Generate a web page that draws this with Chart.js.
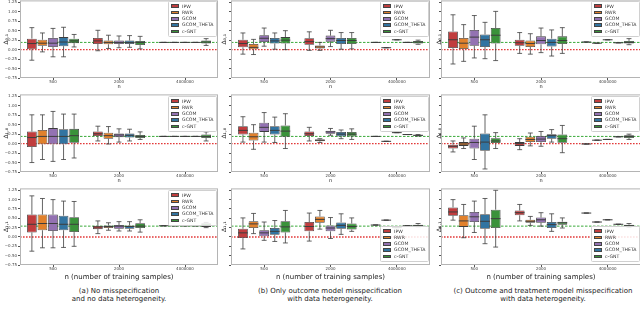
<!DOCTYPE html>
<html><head><meta charset="utf-8">
<script src="https://cdn.jsdelivr.net/npm/chart.js@4.4.1/dist/chart.umd.min.js"></script>
<style>
html,body{margin:0;padding:0;background:#fff;width:640px;height:318px;overflow:hidden;font-family:'DejaVu Sans',sans-serif;}
#root{position:relative;width:640px;height:318px;overflow:hidden;}
canvas{position:absolute;}
.leg{position:absolute;background:rgba(255,255,255,0.85);border:0.6px solid #d0d0d0;border-radius:1.5px;padding:1.5px 2.5px 1px 2.5px;font-size:4.6px;line-height:6.3px;color:#333;white-space:nowrap;}
.leg .sw{display:inline-block;width:8px;height:3.6px;border:0.5px solid #444;margin-right:3px;vertical-align:middle;box-sizing:border-box;}
.cap{position:absolute;width:260px;text-align:center;font-size:7px;line-height:8px;color:#222;}
</style></head><body>
<div id="root"></div>
<script>
// ---------- data ----------
const categories = ['500', '2000', '4000000'];
const seriesNames = ['IPW', 'RWR', 'GCOM', 'GCOM_THETA', 'c-GNT'];
const yTickValues = [-0.75, -0.5, -0.25, 0, 0.25, 0.5, 0.75, 1.0, 1.25];
const yAxisLabels = ['Δ₀,₁', 'Δ₁,₀', 'Δ₁,₁'];
const truthValues = [0.19, 0.19, 0.29];   // green dashed reference per row
const baselineValue = 0;                  // red dotted reference
const captionLines = [
  ['(a) No misspecification', 'and no data heterogeneity.'],
  ['(b) Only outcome model misspecification', 'with data heterogeneity.'],
  ['(c) Outcome and treatment model misspecification', 'with data heterogeneity.']
];

// box stats per n: [min, q1, median, q3, max]
// row 1
const r1a_IPW  = [[-0.28,0.01,0.16,0.29,0.58], [-0.03,0.15,0.23,0.31,0.51], [0.19,0.19,0.19,0.19,0.19]];
const r1a_RWR  = [[-0.06,0.10,0.17,0.26,0.44], [0.03,0.14,0.19,0.24,0.38], [0.19,0.19,0.19,0.19,0.19]];
const r1a_GCOM = [[-0.19,0.07,0.17,0.31,0.56], [0.05,0.15,0.19,0.24,0.36], [0.19,0.19,0.19,0.19,0.19]];
const r1a_GT   = [[-0.19,0.09,0.20,0.33,0.59], [0.06,0.15,0.19,0.24,0.37], [0.19,0.19,0.19,0.19,0.19]];
const r1a_CGNT = [[0.07,0.17,0.23,0.29,0.40], [0.02,0.12,0.19,0.23,0.35], [0.11,0.16,0.20,0.24,0.29]];

const r1b_IPW  = [[-0.12,0.06,0.16,0.26,0.44], [-0.02,0.13,0.21,0.30,0.47], [0.19,0.19,0.19,0.19,0.19]];
const r1b_RWR  = [[-0.13,0.01,0.06,0.15,0.27], [-0.02,0.03,0.07,0.11,0.19], [0.05,0.05,0.05,0.05,0.05]];
const r1b_GCOM = [[0.09,0.20,0.30,0.38,0.57], [0.08,0.21,0.29,0.37,0.51], [0.26,0.26,0.26,0.26,0.26]];
const r1b_GT   = [[0.01,0.16,0.23,0.31,0.44], [0.01,0.15,0.24,0.31,0.45], [0.19,0.19,0.19,0.19,0.19]];
const r1b_CGNT = [[0.00,0.16,0.25,0.33,0.50], [0.02,0.15,0.24,0.31,0.45], [0.14,0.16,0.20,0.23,0.25]];

const r1c_IPW  = [[-0.38,0.04,0.26,0.48,0.92], [-0.10,0.10,0.18,0.26,0.45], [0.20,0.20,0.20,0.20,0.20]];
const r1c_RWR  = [[-0.31,0.00,0.17,0.31,0.66], [-0.12,0.07,0.16,0.24,0.42], [0.17,0.17,0.17,0.17,0.17]];
const r1c_GCOM = [[-0.22,0.10,0.33,0.52,0.90], [-0.08,0.14,0.24,0.35,0.57], [0.26,0.26,0.26,0.26,0.26]];
const r1c_GT   = [[-0.24,0.07,0.26,0.40,0.72], [-0.17,0.08,0.19,0.29,0.52], [0.18,0.18,0.18,0.18,0.18]];
const r1c_CGNT = [[-0.29,0.16,0.38,0.57,1.01], [-0.10,0.15,0.24,0.35,0.58], [0.13,0.16,0.19,0.23,0.29]];
// row 2
const r2a_IPW  = [[-0.50,-0.09,0.16,0.32,0.76], [0.07,0.20,0.26,0.32,0.46], [0.19,0.19,0.19,0.19,0.19]];
const r2a_RWR  = [[-0.42,-0.02,0.19,0.36,0.76], [-0.01,0.13,0.21,0.29,0.45], [0.19,0.19,0.19,0.19,0.19]];
const r2a_GCOM = [[-0.47,-0.02,0.19,0.41,0.85], [0.04,0.17,0.23,0.27,0.39], [0.19,0.19,0.19,0.19,0.19]];
const r2a_GT   = [[-0.42,-0.02,0.19,0.38,0.78], [0.07,0.16,0.22,0.27,0.38], [0.19,0.19,0.19,0.19,0.19]];
const r2a_CGNT = [[-0.38,0.02,0.21,0.39,0.78], [0.11,0.15,0.19,0.23,0.31], [0.07,0.15,0.19,0.24,0.31]];

const r2b_IPW  = [[0.04,0.24,0.35,0.46,0.71], [0.07,0.20,0.26,0.32,0.43], [0.19,0.19,0.19,0.19,0.19]];
const r2b_RWR  = [[-0.15,0.08,0.18,0.29,0.50], [0.03,0.06,0.09,0.11,0.13], [0.06,0.06,0.06,0.06,0.06]];
const r2b_GCOM = [[0.04,0.31,0.43,0.55,0.82], [0.22,0.26,0.31,0.34,0.40], [0.29,0.29,0.29,0.29,0.29]];
const r2b_GT   = [[0.03,0.24,0.35,0.46,0.70], [0.13,0.19,0.25,0.31,0.36], [0.24,0.24,0.24,0.24,0.24]];
const r2b_CGNT = [[-0.13,0.18,0.33,0.48,0.79], [0.11,0.19,0.25,0.31,0.39], [0.20,0.21,0.22,0.23,0.24]];

const r2c_IPW  = [[-0.22,-0.13,-0.07,-0.03,0.07], [-0.16,-0.06,0.00,0.04,0.13], [-0.01,-0.01,-0.01,-0.01,-0.01]];
const r2c_RWR  = [[-0.13,-0.06,-0.01,0.04,0.15], [-0.06,0.04,0.11,0.18,0.28], [0.09,0.09,0.09,0.09,0.09]];
const r2c_GCOM = [[-0.42,-0.13,0.03,0.13,0.46], [-0.07,0.04,0.12,0.20,0.32], [0.11,0.11,0.11,0.11,0.11]];
const r2c_GT   = [[-0.67,-0.19,0.04,0.27,0.76], [0.04,0.13,0.21,0.25,0.37], [0.18,0.18,0.18,0.18,0.18]];
const r2c_CGNT = [[-0.13,0.00,0.07,0.14,0.29], [-0.24,0.02,0.13,0.24,0.48], [0.11,0.15,0.19,0.22,0.25]];
// row 3
const r3a_IPW  = [[-0.38,0.12,0.34,0.60,1.10], [0.09,0.21,0.27,0.30,0.43], [0.30,0.30,0.30,0.30,0.30]];
const r3a_RWR  = [[-0.29,0.18,0.36,0.60,1.03], [0.18,0.24,0.28,0.31,0.38], [0.30,0.30,0.30,0.30,0.30]];
const r3a_GCOM = [[-0.29,0.16,0.36,0.60,1.00], [0.16,0.22,0.29,0.32,0.41], [0.30,0.30,0.30,0.30,0.30]];
const r3a_GT   = [[-0.28,0.18,0.34,0.57,0.96], [0.16,0.22,0.28,0.31,0.41], [0.30,0.30,0.30,0.30,0.30]];
const r3a_CGNT = [[-0.25,0.13,0.34,0.53,0.95], [0.13,0.24,0.29,0.37,0.46], [0.25,0.27,0.31,0.37,0.39]];

const r3b_IPW  = [[-0.32,-0.03,0.11,0.22,0.51], [-0.11,0.15,0.28,0.40,0.64], [0.32,0.32,0.32,0.32,0.32]];
const r3b_RWR  = [[0.09,0.24,0.35,0.42,0.63], [0.21,0.38,0.47,0.55,0.71], [0.45,0.45,0.45,0.45,0.45]];
const r3b_GCOM = [[-0.09,0.02,0.11,0.18,0.40], [-0.04,0.15,0.24,0.31,0.52], [0.25,0.25,0.25,0.25,0.25]];
const r3b_GT   = [[-0.12,0.06,0.15,0.24,0.44], [0.07,0.22,0.31,0.39,0.62], [0.30,0.30,0.30,0.30,0.30]];
const r3b_CGNT = [[-0.16,0.12,0.27,0.42,0.71], [0.15,0.20,0.28,0.36,0.51], [0.27,0.28,0.30,0.33,0.36]];

const r3c_IPW  = [[0.45,0.57,0.67,0.79,1.00], [0.43,0.58,0.65,0.71,0.87], [0.64,0.64,0.64,0.64,0.64]];
const r3c_RWR  = [[-0.02,0.27,0.43,0.58,0.87], [0.31,0.38,0.42,0.46,0.55], [0.40,0.40,0.40,0.40,0.40]];
const r3c_GCOM = [[0.12,0.40,0.54,0.67,0.96], [0.29,0.38,0.46,0.52,0.65], [0.46,0.46,0.46,0.46,0.46]];
const r3c_GT   = [[-0.18,0.22,0.42,0.61,1.03], [0.15,0.24,0.33,0.40,0.62], [0.34,0.34,0.34,0.34,0.34]];
const r3c_CGNT = [[-0.27,0.24,0.49,0.73,1.25], [0.24,0.33,0.38,0.41,0.51], [0.26,0.28,0.30,0.33,0.36]];

const panels = [
  [[r1a_IPW, r1a_RWR, r1a_GCOM, r1a_GT, r1a_CGNT], [r1b_IPW, r1b_RWR, r1b_GCOM, r1b_GT, r1b_CGNT], [r1c_IPW, r1c_RWR, r1c_GCOM, r1c_GT, r1c_CGNT]],
  [[r2a_IPW, r2a_RWR, r2a_GCOM, r2a_GT, r2a_CGNT], [r2b_IPW, r2b_RWR, r2b_GCOM, r2b_GT, r2b_CGNT], [r2c_IPW, r2c_RWR, r2c_GCOM, r2c_GT, r2c_CGNT]],
  [[r3a_IPW, r3a_RWR, r3a_GCOM, r3a_GT, r3a_CGNT], [r3b_IPW, r3b_RWR, r3b_GCOM, r3b_GT, r3b_CGNT], [r3c_IPW, r3c_RWR, r3c_GCOM, r3c_GT, r3c_CGNT]]
];

// ---------- style / layout ----------
const seriesColors = ['#c03d3e', '#e1812c', '#9372b2', '#3274a1', '#3a923a'];
const edgeColor = '#3d3d3d';
const colGeom = [
  {canvasLeft: 0,   axisW: 20, caRight: 218},
  {canvasLeft: 218, axisW: 13, caRight: 430},
  {canvasLeft: 433, axisW: 8,  caRight: 641}
];
const rowGeom = [
  {caTop: 0,   caH: 78, xh: 12},
  {caTop: 94,  caH: 78, xh: 12},
  {caTop: 188, caH: 77, xh: 16}
];
const PADTOP = 3;
Chart.defaults.font.family = "'DejaVu Sans', sans-serif";

const boxPlugin = {
  id: 'boxExtras',
  beforeDatasetsDraw(chart, args, opts) {
    const {ctx, chartArea: ca, scales: {y}} = chart;
    ctx.save();
    ctx.beginPath(); ctx.rect(ca.left, ca.top, ca.width, ca.height); ctx.clip();
    const yr = y.getPixelForValue(opts.baseline);
    ctx.strokeStyle = '#e23a3a'; ctx.lineWidth = 1.3; ctx.setLineDash([1.6, 1.4]);
    ctx.beginPath(); ctx.moveTo(ca.left, yr); ctx.lineTo(ca.right, yr); ctx.stroke();
    const yg = y.getPixelForValue(opts.truth);
    ctx.strokeStyle = '#3aaa3a'; ctx.lineWidth = 1; ctx.setLineDash([2.5, 1.5]);
    ctx.beginPath(); ctx.moveTo(ca.left, yg); ctx.lineTo(ca.right, yg); ctx.stroke();
    ctx.restore();
  },
  afterDatasetsDraw(chart) {
    const {ctx, scales: {y}} = chart;
    ctx.save();
    ctx.strokeStyle = edgeColor;
    chart.data.datasets.forEach((ds, i) => {
      const meta = chart.getDatasetMeta(i);
      meta.data.forEach((bar, j) => {
        const s = ds.stats[j];
        const {x, width} = bar.getProps(['x', 'width'], true);
        const p = s.map(v => y.getPixelForValue(v));
        ctx.lineWidth = 0.8;
        ctx.beginPath();
        ctx.moveTo(x, p[3]); ctx.lineTo(x, p[4]);
        ctx.moveTo(x, p[1]); ctx.lineTo(x, p[0]);
        ctx.moveTo(x - width / 4, p[4]); ctx.lineTo(x + width / 4, p[4]);
        ctx.moveTo(x - width / 4, p[0]); ctx.lineTo(x + width / 4, p[0]);
        ctx.stroke();
        ctx.lineWidth = 1;
        ctx.beginPath();
        ctx.moveTo(x - width / 2, p[2]); ctx.lineTo(x + width / 2, p[2]);
        ctx.stroke();
      });
    });
    ctx.restore();
  },
  afterDraw(chart) {
    const {ctx, chartArea: ca} = chart;
    ctx.save();
    ctx.strokeStyle = '#b4b4b4'; ctx.lineWidth = 1;
    ctx.strokeRect(ca.left + 0.5, ca.top + 0.5, ca.width - 1, ca.height - 1);
    ctx.restore();
  }
};

const fmt = v => (v < 0 ? '\u2212' : '') + Math.abs(v).toFixed(2);
const root = document.getElementById('root');

for (let r = 0; r < 3; r++) {
  for (let c = 0; c < 3; c++) {
    const cg = colGeom[c], rg = rowGeom[r];
    const cv = document.createElement('canvas');
    const W = cg.caRight - cg.canvasLeft, H = PADTOP + rg.caH + rg.xh;
    cv.width = W; cv.height = H;
    cv.style.left = cg.canvasLeft + 'px'; cv.style.top = (rg.caTop - PADTOP) + 'px';
    cv.style.width = W + 'px'; cv.style.height = H + 'px';
    root.appendChild(cv);
    const datasets = panels[r][c].map((stats, k) => ({
      label: seriesNames[k],
      data: stats.map(s => [s[1], s[3]]),
      stats: stats,
      backgroundColor: seriesColors[k],
      borderColor: edgeColor,
      borderWidth: 0.8,
      borderSkipped: false,
      barPercentage: 0.92,
      categoryPercentage: 0.8
    }));
    new Chart(cv, {
      type: 'bar',
      data: {labels: categories, datasets},
      plugins: [boxPlugin],
      options: {
        responsive: false, animation: false, devicePixelRatio: 1,
        layout: {padding: {top: PADTOP, left: 0, right: 0, bottom: 0}},
        plugins: {
          legend: {display: false}, tooltip: {enabled: false},
          boxExtras: {truth: truthValues[r], baseline: baselineValue}
        },
        scales: {
          x: {
            offset: true,
            grid: {display: true, drawOnChartArea: false, offset: false, tickLength: 2, color: '#555', tickColor: '#555'},
            border: {display: false},
            ticks: {font: {size: 4}, color: '#444', padding: 0, maxRotation: 0, autoSkip: false},
            title: {display: true, text: r === 2 ? 'n (number of training samples)' : 'n',
                    font: {size: r === 2 ? 7 : 5}, color: '#222', padding: {top: 0, bottom: 0}},
            afterFit: s => { s.height = rg.xh; }
          },
          y: {
            min: -0.75, max: 1.3,
            afterBuildTicks: s => { s.ticks = yTickValues.map(v => ({value: v})); },
            grid: {display: true, drawOnChartArea: false, tickLength: 2, color: '#555', tickColor: '#555'},
            border: {display: false},
            ticks: {font: {size: 4}, color: '#444', padding: 1,
                    callback: v => (c === 0 ? fmt(v) : '')},
            title: {display: true, text: yAxisLabels[r], font: {size: 6}, color: '#222', padding: {top: 2.4, bottom: 0}},
            afterFit: s => { s.width = cg.axisW; }
          }
        }
      }
    });
    // legend (HTML)
    const leg = document.createElement('div');
    leg.className = 'leg';
    leg.innerHTML = seriesNames.map((n, k) =>
      `<div><span class="sw" style="background:${seriesColors[k]}"></span>${n}</div>`).join('');
    root.appendChild(leg);
    const caLeft = cg.canvasLeft + cg.axisW;
    leg.style.right = (640 - Math.min(cg.caRight, 641) + 1) + 'px';
    if (r === 2 && c > 0) {
      leg.style.top = (rg.caTop + rg.caH - 3 - leg.offsetHeight) + 'px';
    } else {
      leg.style.top = (rg.caTop + (r === 0 ? 1 : 2)) + 'px';
    }
  }
}
// captions
const capCenters = [119, 330, 543];
captionLines.forEach((lines, i) => {
  const d = document.createElement('div');
  d.className = 'cap';
  d.style.left = (capCenters[i] - 130) + 'px';
  d.style.top = '287px';
  d.innerHTML = lines.join('<br>');
  root.appendChild(d);
});
</script>
</body></html>
